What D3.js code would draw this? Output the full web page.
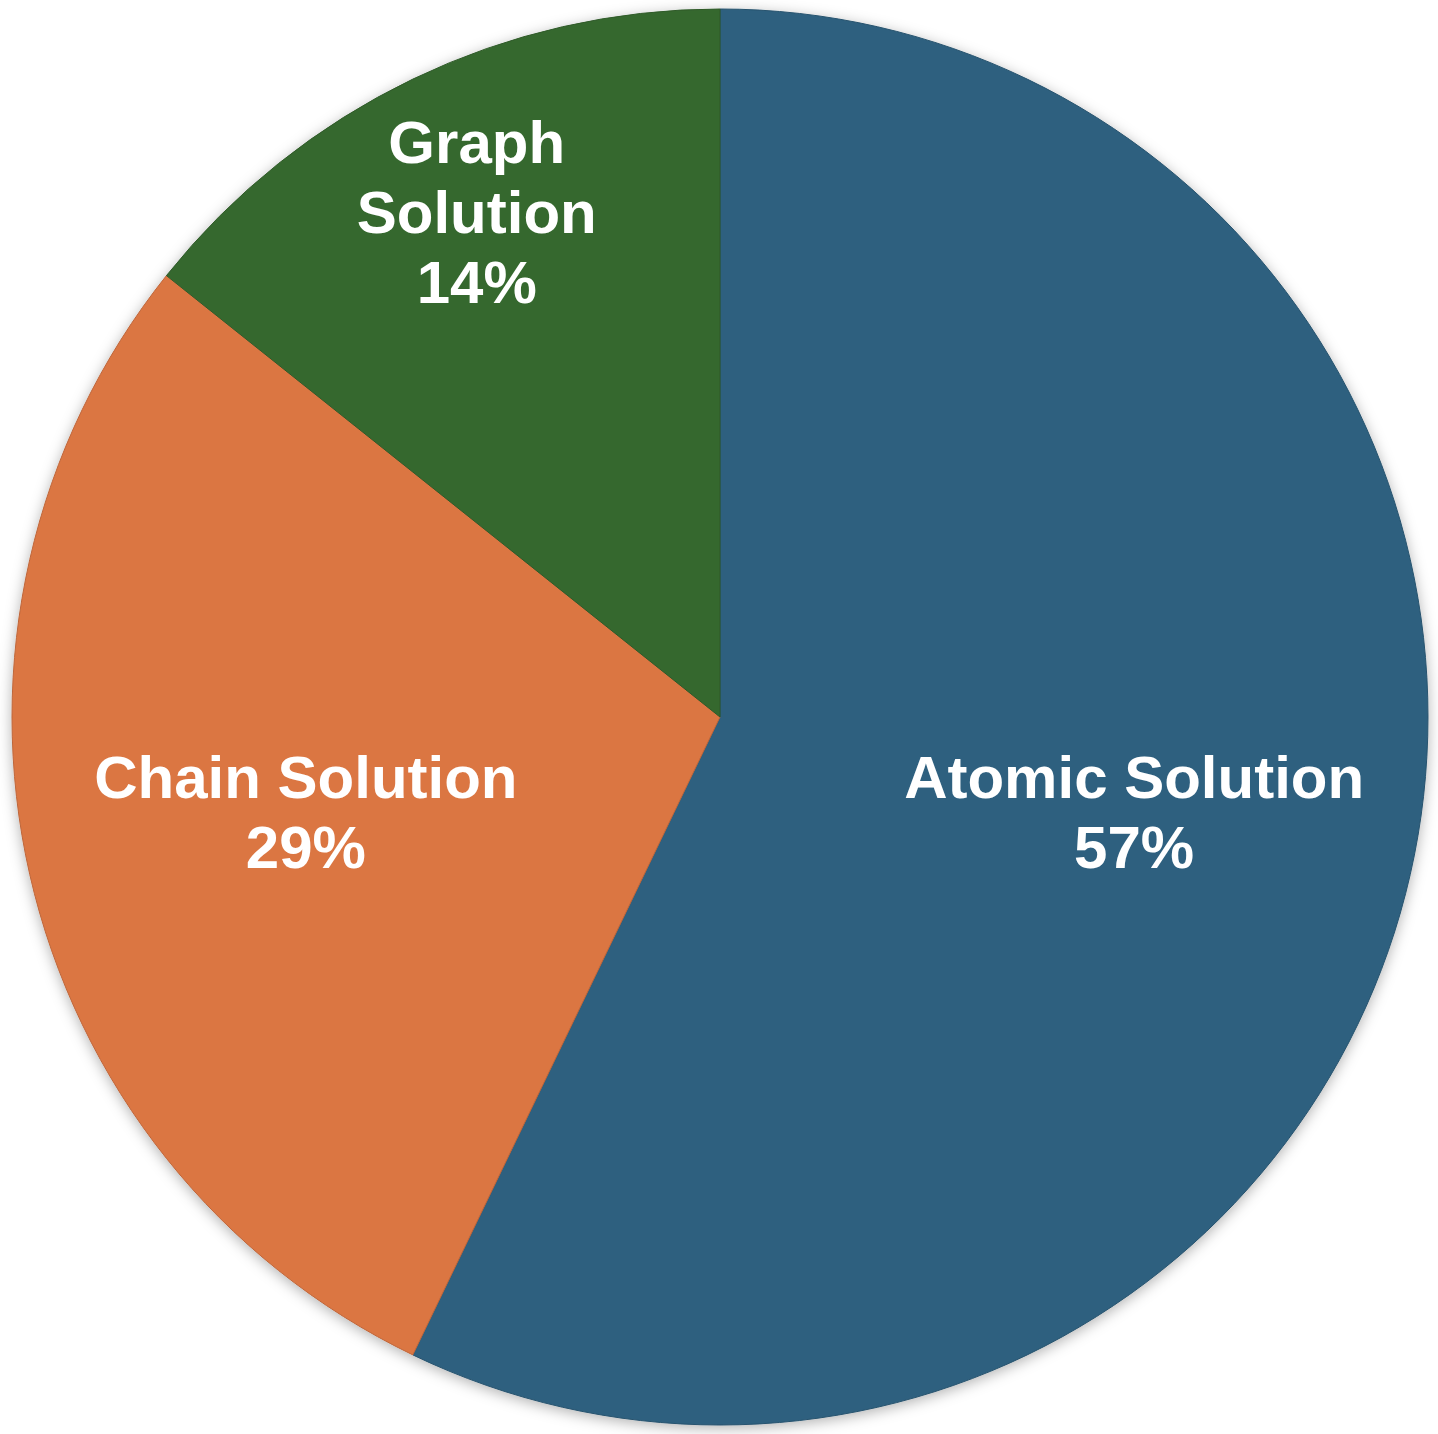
<!DOCTYPE html>
<meta charset="utf-8">
<script src="https://d3js.org/d3.v7.min.js"></script>
<style>
  body { margin: 0; background: #fff; }
</style>
<div id="my_dataviz"></div>
<script>

// slice data, clockwise from 12 o'clock
var categories = ["Atomic Solution", "Chain Solution", "Graph Solution"];
var values = [4, 2, 1];
var colors = ["#2E607F", "#DB7643", "#36682F"];
// how each label is broken into lines ("Graph Solution" wraps)
var labelLines = [["Atomic Solution"], ["Chain Solution"], ["Graph", "Solution"]];

var width = 1438, height = 1434;
var cx = 720, cy = 717, radius = 708;

var svg = d3.select("#my_dataviz")
  .append("svg")
    .attr("width", width)
    .attr("height", height);

// soft shadow round the pie
var defs = svg.append("defs");
defs.append("filter")
    .attr("id", "shadow")
    .attr("x", "-10%").attr("y", "-10%")
    .attr("width", "120%").attr("height", "120%")
  .append("feDropShadow")
    .attr("dx", 0)
    .attr("dy", 3)
    .attr("stdDeviation", 7)
    .attr("flood-color", "#000")
    .attr("flood-opacity", 0.3);

var g = svg.append("g")
    .attr("transform", "translate(" + cx + "," + cy + ")");

var total = d3.sum(values);
var data = categories.map(function (c, i) { return { name: c, value: values[i], i: i }; });

var pie = d3.pie()
    .sort(null)
    .value(function (d) { return d.value; });

var arc = d3.arc()
    .innerRadius(0)
    .outerRadius(radius);

var arcs = pie(data);

var color = d3.scaleOrdinal()
    .domain(categories)
    .range(colors);

g.append("g")
    .attr("filter", "url(#shadow)")
  .selectAll("path")
  .data(arcs)
  .enter()
  .append("path")
    .attr("d", arc)
    .attr("fill", function (d) { return color(d.data.name); })
    .attr("stroke", function (d) { return d3.color(color(d.data.name)).darker(0.4); })
    .attr("stroke-width", 1);

// labels sit on the slice's mid angle; the small slice pushes its label outward
var fmt = d3.format(".0%");
var fontSize = 60, lineH = 70;

arcs.forEach(function (d) {
  var lines = labelLines[d.data.i].concat([fmt(d.data.value / total)]);
  var rr = (d.data.value / total < 0.2 ? 0.792 : 0.6) * radius;
  var c = d3.arc().innerRadius(rr).outerRadius(rr).centroid(d);
  var firstBase = c[1] - (lines.length - 1) * lineH / 2 + fontSize * 0.36;
  var t = g.append("text")
      .attr("text-anchor", "middle")
      .attr("fill", "#fff")
      .style("font-family", "'Liberation Sans', Arial, Helvetica, sans-serif")
      .style("font-weight", "bold")
      .style("font-size", fontSize + "px");
  lines.forEach(function (s, k) {
    t.append("tspan")
      .attr("x", c[0])
      .attr("y", firstBase + k * lineH)
      .text(s);
  });
});

</script>
